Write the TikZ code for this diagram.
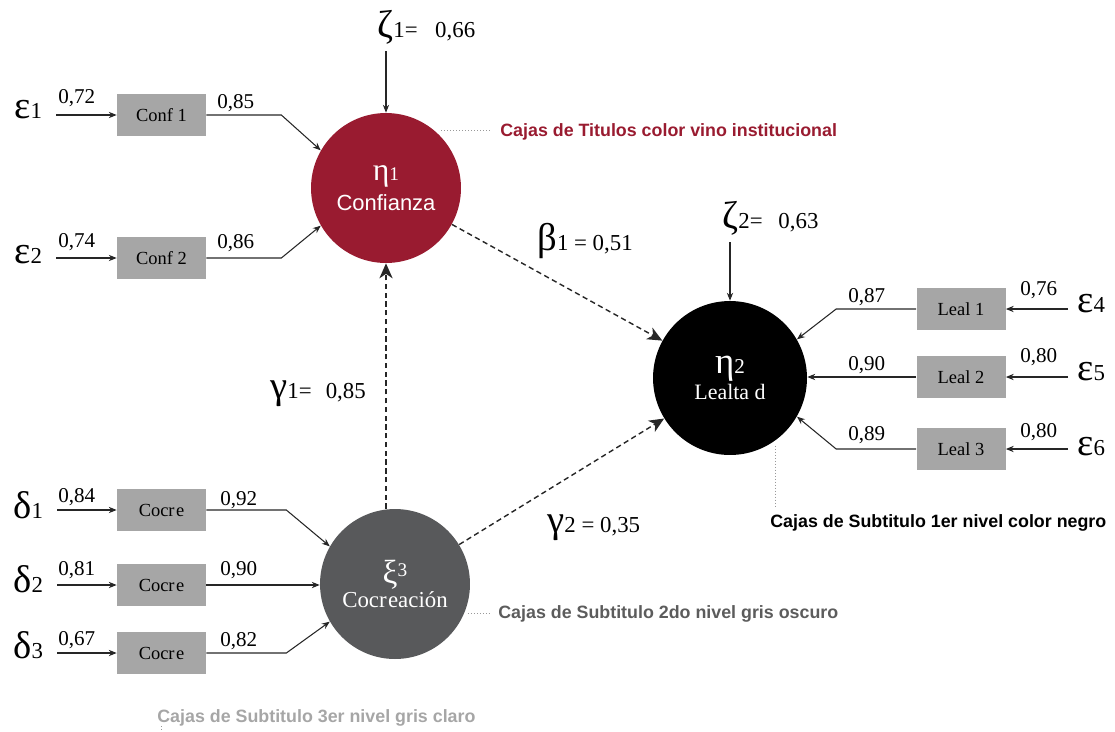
\documentclass[tikz,border=0pt]{standalone}
\usepackage{fontspec}
\setmainfont{Liberation Serif}
\setsansfont{Liberation Sans}
\usetikzlibrary{arrows.meta}
\definecolor{vino}{HTML}{991B30}
\definecolor{grisoscuro}{HTML}{58595B}
\definecolor{griscaja}{HTML}{A6A6A6}
\definecolor{grisnota}{HTML}{5C5C5C}
\definecolor{grisclaro}{HTML}{A6A6A6}
\newcommand{\grk}[1]{{\fontsize{22}{22}\selectfont #1}}
\newcommand{\sbn}[1]{{\fontsize{13}{13}\selectfont #1}}
\tikzset{
  latent/.style={circle, inner sep=0pt, text=white, align=center},
  obsbox/.style={rectangle, fill=griscaja, minimum width=1.78cm, minimum height=0.84cm, inner sep=0pt, font=\fontsize{10.5}{12}\selectfont},
  errlbl/.style={anchor=base west, inner sep=0pt},
  coef/.style={anchor=base west, inner sep=0pt, font=\fontsize{12}{12}\selectfont},
  loading/.style={draw=black!85, line width=0.6pt, -{Stealth[length=4.5pt, width=3.6pt]}},
  effect/.style={draw=black!85, line width=0.8pt, dash pattern=on 3pt off 2pt, -{Stealth[length=8.5pt, width=7.5pt, inset=2.5pt]}},
  leader/.style={draw=black!40, line width=0.5pt, dash pattern=on 0.5pt off 1.2pt},
  note/.style={anchor=base west, inner sep=0pt, font=\sffamily\bfseries\fontsize{10.15}{12}\selectfont},
}

\begin{document}
\begin{tikzpicture}[x=0.02cm, y=-0.02cm]
\useasboundingbox (0,0) rectangle (1115,731);
% constructos
\node[latent, fill=vino, minimum size=3.0cm] (eta1) at (386,188) {{\fontsize{18}{18}\selectfont η}{\fontsize{11}{11}\selectfont 1}\\[3pt]{\sffamily\fontsize{12.5}{12.5}\selectfont Confianza}};
\node[latent, fill=black, minimum size=3.08cm] (eta2) at (730,378) {{\fontsize{21}{21}\selectfont η}{\fontsize{12}{12}\selectfont 2}\\[1pt]{\fontsize{12.5}{12.5}\selectfont Lealta d}};
\node[latent, fill=grisoscuro, minimum size=3.0cm] (xi3) at (395,584) {{\fontsize{19}{19}\selectfont ξ}\raisebox{4pt}{\fontsize{11}{11}\selectfont 3}\\[0pt]{\fontsize{13}{13}\selectfont Cocr\kern0.8pt eación}};
% indicadores
\node[obsbox] (conf1) at (161.5,115) {Conf 1};
\node[obsbox] (conf2) at (161.5,258) {Conf 2};
\node[obsbox] (cocre1) at (161.5,510) {Cocr\kern0.8pt e};
\node[obsbox] (cocre2) at (161.5,585) {Cocr\kern0.8pt e};
\node[obsbox] (cocre3) at (161.5,653) {Cocr\kern0.8pt e};
\node[obsbox] (leal1) at (961,309) {Leal 1};
\node[obsbox] (leal2) at (961,377) {Leal 2};
\node[obsbox] (leal3) at (961,449) {Leal 3};
\draw[loading] (conf1.east) -- ++(75,0) -- (eta1.150);
\draw[loading] (conf2.east) -- ++(75,0) -- (eta1.210);
\draw[loading] (cocre1.east) -- ++(80,0) -- (xi3.150);
\draw[loading] (cocre2.east) -- (cocre2.east -| xi3.west);
\draw[loading] (cocre3.east) -- ++(80,0) -- (xi3.210);
\draw[loading] (leal1.west) -- ++(-80,0) -- (eta2.30);
\draw[loading] (leal2.west) -- (leal2.west -| eta2.east);
\draw[loading] (leal3.west) -- ++(-80,0) -- (eta2.-30);
% errores
\node[errlbl] (e1) at (14,118) {\grk{ε}\sbn{1}};
\node[errlbl] (e2) at (14,263) {\grk{ε}\sbn{2}};
\node[errlbl] (d1) at (13,518) {\grk{δ}\sbn{1}};
\node[errlbl] (d2) at (13,592) {\grk{δ}\sbn{2}};
\node[errlbl] (d3) at (13,658) {\grk{δ}\sbn{3}};
\node[errlbl] (e4) at (1077,312) {\grk{ε}\sbn{4}};
\node[errlbl] (e5) at (1077,380) {\grk{ε}\sbn{5}};
\node[errlbl] (e6) at (1077,455) {\grk{ε}\sbn{6}};
\draw[loading, shorten <=8pt] (conf1.west -| e1.east) -- (conf1.west);
\draw[loading, shorten <=8pt] (conf2.west -| e2.east) -- (conf2.west);
\draw[loading, shorten <=8pt] (cocre1.west -| d1.east) -- (cocre1.west);
\draw[loading, shorten <=8pt] (cocre2.west -| d2.east) -- (cocre2.west);
\draw[loading, shorten <=8pt] (cocre3.west -| d3.east) -- (cocre3.west);
\draw[loading, shorten <=5pt] (leal1.east -| e4.west) -- (leal1.east);
\draw[loading, shorten <=5pt] (leal2.east -| e5.west) -- (leal2.east);
\draw[loading, shorten <=5pt] (leal3.east -| e6.west) -- (leal3.east);
% cargas
\node[coef] (c72) at (58,103) {0,72};
\node[coef] (c85) at (217,108) {0,85};
\node[coef] (c74) at (58,247) {0,74};
\node[coef] (c86) at (217,248) {0,86};
\node[coef] (c84) at (58,502) {0,84};
\node[coef] (c92) at (220,505) {0,92};
\node[coef] (c81) at (58,575) {0,81};
\node[coef] (c90a) at (220,575) {0,90};
\node[coef] (c67) at (58,645) {0,67};
\node[coef] (c82) at (220,646) {0,82};
\node[coef] (c87) at (848,302) {0,87};
\node[coef] (c90b) at (848,370) {0,90};
\node[coef] (c89) at (848,440) {0,89};
\node[coef] (c76) at (1020,295) {0,76};
\node[coef] (c80a) at (1020,362) {0,80};
\node[coef] (c80b) at (1020,437) {0,80};
% perturbaciones
\node[errlbl] (z1) at (377,37) {\grk{ζ}\sbn{1=}\hspace{10pt}\sbn{0,66}};
\node[errlbl] (z2) at (722,228) {\grk{ζ}\sbn{2=}\hspace{9pt}\sbn{0,63}};
\draw[loading, shorten <=4pt] (eta1.north |- z1.south) -- (eta1.north);
\draw[loading, shorten <=4pt] (eta2.north |- z2.south) -- (eta2.north);
% relaciones estructurales
\draw[effect] (eta1) -- (eta2);
\draw[effect] (xi3.north -| eta1.south) -- (eta1.south);
\draw[effect] (xi3) -- (eta2);
\node[errlbl] (b1) at (537,250) {\grk{β}\sbn{1 = 0,51}};
\node[errlbl] (g1) at (270,398) {\grk{γ}\sbn{1=}\hspace{8pt}\sbn{0,85}};
\node[errlbl] (g2) at (547,532) {\grk{γ}\sbn{2 = 0,35}};
% notas
\node[note, text=vino] (n1) at (500,136) {Cajas de Titulos color vino institucional};
\node[note, text=black] (n2) at (770,527) {Cajas de Subtitulo 1er nivel color negro};
\node[note, text=grisnota] (n3) at (498,618) {Cajas de Subtitulo 2do nivel gris oscuro};
\node[note, text=grisclaro] (n4) at (157,722) {Cajas de Subtitulo 3er nivel gris claro};
\coordinate (n4pie) at (161,731);
\draw[leader, shorten <=4pt, shorten >=5pt] (eta1.50) -- (eta1.50 -| n1.west);
\draw[leader, shorten <=3pt, shorten >=3pt] (eta2.-54) -- (eta2.-54 |- n2.north);
\draw[leader, shorten <=2pt, shorten >=4pt] (xi3.-23) -- (xi3.-23 -| n3.west);
\draw[leader] (n4.south -| n4pie) -- (n4pie);
\end{tikzpicture}
\end{document}
